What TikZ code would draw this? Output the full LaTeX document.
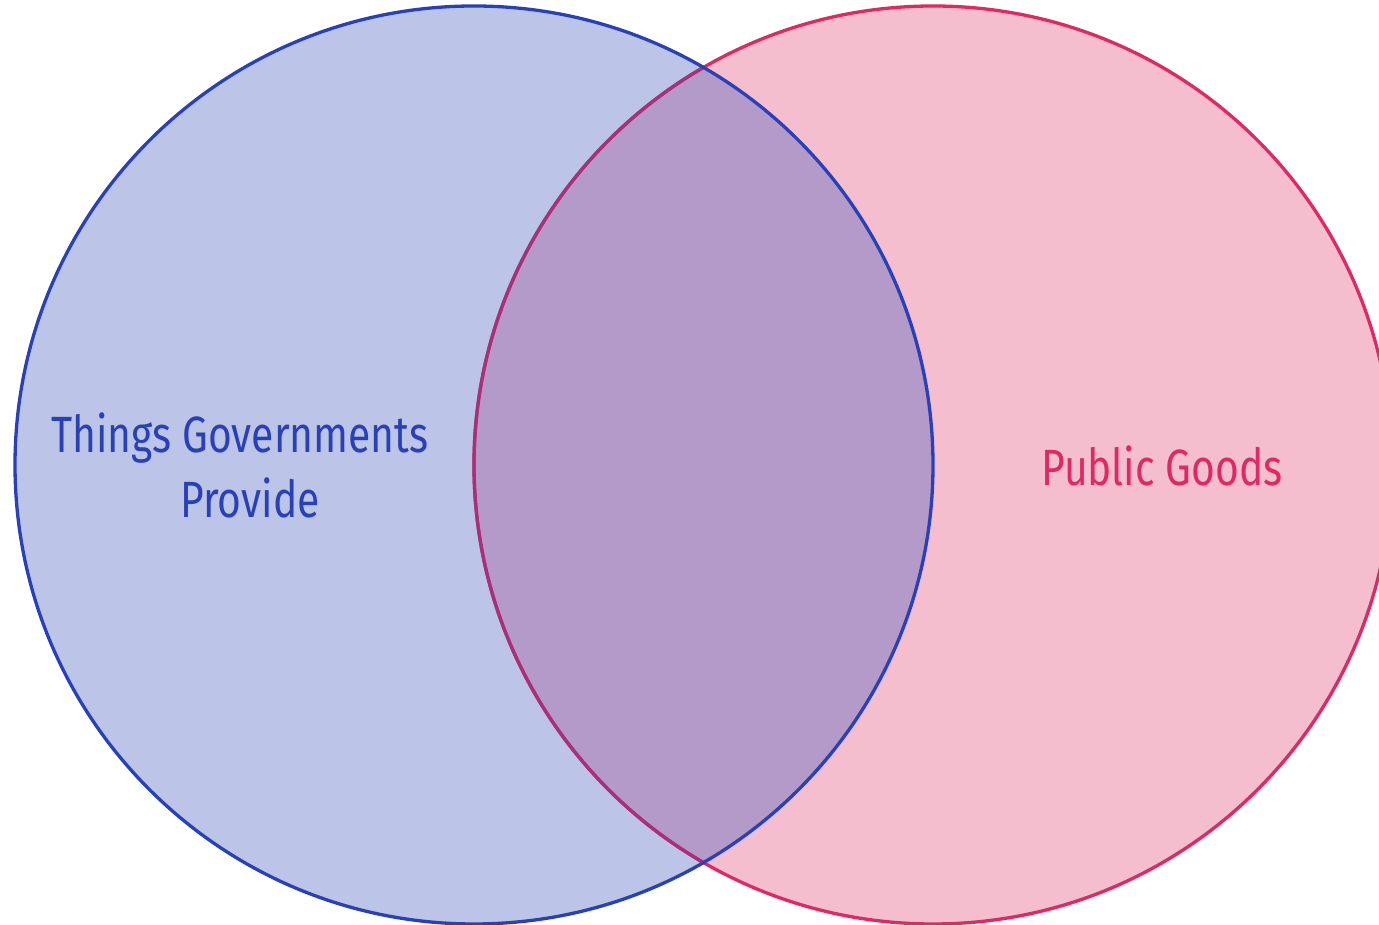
\documentclass[tikz,border=0pt]{standalone}
\usepackage{fontspec}
\setmainfont[FakeStretch=0.8]{Fira Sans}
\definecolor{bluefill}{HTML}{BCC4E8}
\definecolor{pinkfill}{HTML}{F5BECF}
\definecolor{overfill}{HTML}{B49AC8}
\definecolor{blueline}{HTML}{2840B8}
\definecolor{pinkline}{HTML}{E02862}
\definecolor{pinkover}{HTML}{A8307A}
\tikzset{
  edge/.style={line width=3.3pt},
  lbl/.style={font=\fontsize{51}{65}\selectfont, align=center, inner sep=0pt}
}
\begin{document}
\begin{tikzpicture}[x=1pt,y=1pt]
\useasboundingbox (0,0) rectangle (1379,925);
\clip (0,0) rectangle (1379,925);
\coordinate (cl) at (474,460);
\coordinate (cr) at (933,460);
\fill[pinkfill] (cr) circle (459);
\fill[bluefill] (cl) circle (459);
\begin{scope}
  \clip (cl) circle (459);
  \fill[overfill] (cr) circle (459);
\end{scope}
\draw[edge, pinkline] (cr) circle (459);
\begin{scope}
  \clip (cl) circle (459);
  \draw[edge, pinkover] (cr) circle (459);
\end{scope}
\draw[edge, blueline] (cl) circle (459);
\node[lbl, text=blueline] (things) at (240,460) {Things Governments\\\hspace*{20pt}Provide};
\node[lbl, text=pinkline] (public) at (1162,459) {Public Goods};
\end{tikzpicture}
\end{document}
